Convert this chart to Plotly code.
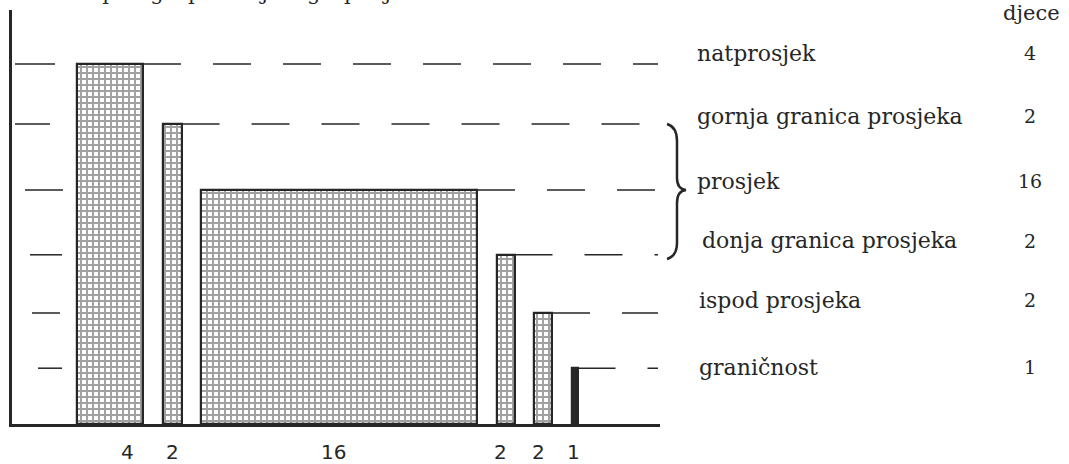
import plotly.graph_objects as go

# ---- data ----
categories = ["natprosjek", "gornja granica prosjeka", "prosjek",
              "donja granica prosjeka", "ispod prosjeka", "graničnost"]
children = [4, 2, 16, 2, 2, 1]
levels = [6.0, 5.0, 3.9, 2.82, 1.85, 0.93]
header = "djece"
title_text = "Rezultati prvog ispitivanja u grupi djece"

# ---- style / layout ----
W, H = 1069, 464
L, R, T, B = 12, 409, 10, 40
PW, PH = W - L - R, H - T - B
YMAX = 6.9
bar_widths = [66, 19, 276, 18, 18, 6]
first_offset = 65
gap = 19.5
ink = "#262626"
serif = "DejaVu Serif"
left_dash = [(3, 43), (3, 38), (13, 51), (18, 50), (20, 48), (26, 50)]
label_dx = [17, 0, -6, -5, -5, -1]
label_left_px = [695, 695, 695, 700, 697, 697]
text_yshift = [11, 8, 9, 14, 13, 1]

centers = []
pos = first_offset
for w in bar_widths:
    centers.append(pos + w / 2)
    pos += w + gap

def px_to_paper(px, py):
    return (px - L) / PW, (H - B - py) / PH

fig = go.Figure()
shapes_list = ["+"] * (len(children) - 1) + [""]
colors = ["white"] * (len(children) - 1) + [ink]
fig.add_trace(go.Bar(
    x=centers, y=levels, width=bar_widths,
    marker=dict(color=colors, line=dict(color=ink, width=2.2),
                pattern=dict(shape=shapes_list, size=6, solidity=0.55,
                             fgcolor="#111111", bgcolor="white")),
    hovertext=categories, showlegend=False,
))

shapes = []
for lv, c, w, (a, b) in zip(levels, centers, bar_widths, left_dash):
    shapes.append(dict(type="line", xref="x", yref="y", x0=a, x1=b, y0=lv, y1=lv,
                       line=dict(color=ink, width=1.5), layer="below"))
    shapes.append(dict(type="line", xref="x", yref="y", x0=c + w / 2, x1=PW - 2,
                       y0=lv, y1=lv,
                       line=dict(color=ink, width=1.5, dash="38px,32px"), layer="below"))

# brace
pts = [(667, 124), (677, 127), (677, 141), (677, 178), (677, 189), (686, 190),
       (677, 191), (677, 203), (677, 243), (677, 256), (667, 259)]
pp = [px_to_paper(*p) for p in pts]
path = (f"M {pp[0][0]},{pp[0][1]} Q {pp[1][0]},{pp[1][1]} {pp[2][0]},{pp[2][1]} "
        f"L {pp[3][0]},{pp[3][1]} Q {pp[4][0]},{pp[4][1]} {pp[5][0]},{pp[5][1]} "
        f"Q {pp[6][0]},{pp[6][1]} {pp[7][0]},{pp[7][1]} L {pp[8][0]},{pp[8][1]} "
        f"Q {pp[9][0]},{pp[9][1]} {pp[10][0]},{pp[10][1]}")
shapes.append(dict(type="path", xref="paper", yref="paper", path=path,
                   line=dict(color=ink, width=2.5)))

annotations = []
num_x = px_to_paper(1030, 0)[0]
for cat, n, lv, ys, lx in zip(categories, children, levels, text_yshift, label_left_px):
    annotations.append(dict(xref="paper", yref="y", x=px_to_paper(lx, 0)[0], y=lv,
                            yshift=ys, text=cat, showarrow=False, xanchor="left",
                            font=dict(family=serif, size=22, color=ink)))
    annotations.append(dict(xref="paper", yref="y", x=num_x, y=lv, yshift=ys,
                            text=str(n), showarrow=False, xanchor="center",
                            font=dict(family=serif, size=19, color=ink)))
hx, hy = px_to_paper(1031, 13)
annotations.append(dict(xref="paper", yref="paper", x=hx, y=hy, text=header,
                        showarrow=False, xanchor="center", yanchor="middle",
                        font=dict(family=serif, size=21, color=ink)))
tx, ty = px_to_paper(-2, -7)
annotations.append(dict(xref="paper", yref="paper", x=tx, y=ty, text=title_text,
                        showarrow=False, xanchor="left", yanchor="middle",
                        font=dict(family=serif, size=21, color=ink)))
for c, n, dx in zip(centers, children, label_dx):
    annotations.append(dict(xref="x", yref="y", x=c + dx, y=0, yshift=-28,
                            text=str(n), showarrow=False, yanchor="middle",
                            font=dict(family="DejaVu Sans", size=20, color=ink)))

fig.update_layout(
    width=W, height=H, margin=dict(l=L, r=R, t=T, b=B),
    paper_bgcolor="white", plot_bgcolor="white",
    bargap=0,
    xaxis=dict(range=[0, PW], showgrid=False, zeroline=False, showticklabels=False,
               ticks="", showline=True, linecolor=ink, linewidth=3),
    yaxis=dict(range=[0, YMAX], showgrid=False, zeroline=False, showticklabels=False,
               ticks="", showline=True, linecolor=ink, linewidth=3),
    shapes=shapes, annotations=annotations,
)
fig.write_html("out.html", config={"displayModeBar": False},
               post_script="document.body.style.margin='0';document.body.style.overflow='hidden';")
